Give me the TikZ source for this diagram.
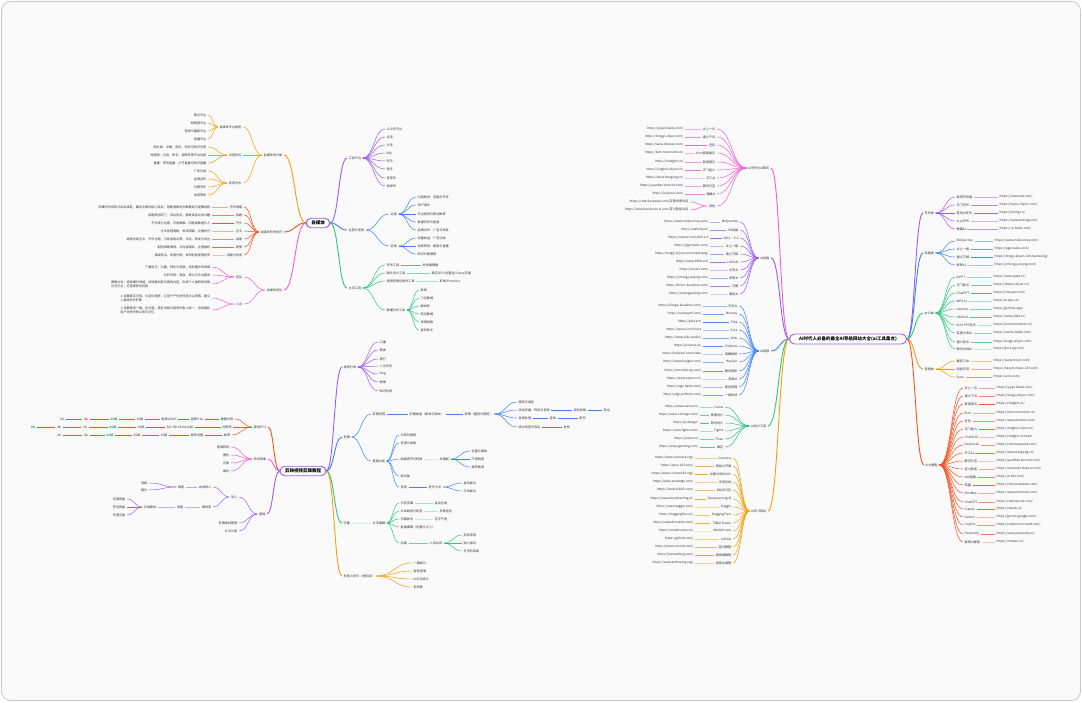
\documentclass[tikz,border=0pt]{standalone}
\usepackage{fontspec}
\setmainfont{Noto Sans CJK SC}
\usetikzlibrary{calc}
\definecolor{cpink}{HTML}{F25CD4}
\definecolor{cpurp}{HTML}{9B5CF6}
\definecolor{cblue}{HTML}{3B82F6}
\definecolor{cgreen}{HTML}{2DC77A}
\definecolor{corange}{HTML}{F59E0B}
\definecolor{cred}{HTML}{F4511E}
\definecolor{bgc}{HTML}{FAFAFA}
\definecolor{txc}{HTML}{333333}
\newcommand\mfs{\fontsize{3.1}{3.9}\selectfont}
\newcommand\mfr{\fontsize{4.5}{5.4}\selectfont\bfseries}
\tikzset{
  mt/.style={font=\mfs, inner xsep=1.5pt, inner ysep=0.6pt, text=txc},
  mtl/.style={mt, anchor=west},
  mtr/.style={mt, anchor=east},
  mtc/.style={mt, anchor=center},
  rootn/.style={draw=cpurp, line width=0.9pt, fill=white, rounded corners=5pt, font=\mfr, inner xsep=5pt, inner ysep=2.6pt, text=black},
  brl/.style={line width=0.9pt},
  fanl/.style={line width=0.5pt},
  chn/.style={line width=0.75pt},
  hc/.style={to path={let \p1=(\tikztostart), \p2=(\tikztotarget) in .. controls ({(\x1+\x2)/2},\y1) and ({(\x1+\x2)/2},\y2) .. (\tikztotarget)}}
}
\newcommand\fanR[5]{%
  \foreach \yy/\tx [count=\ii] in {#5}{%
    \node[mtl] (#4\ii) at (#3,\yy) {\tx};
    \draw[fanl,#2] (#1.east) to[hc] (#4\ii.west);}}
\newcommand\fanL[5]{%
  \foreach \yy/\tx [count=\ii] in {#5}{%
    \node[mtr] (#4\ii) at (#3,\yy) {\tx};
    \draw[fanl,#2] (#1.west) to[hc] (#4\ii.east);}}
\newcommand\mmR[6]{%
  \foreach \yy/\tx/\ux [count=\ii] in {#6}{%
    \node[mtl] (#5l\ii) at (#3,\yy) {\tx};
    \node[mtl] (#5u\ii) at (#4,\yy) {\ux};
    \draw[fanl,#2] (#1.east) to[hc] (#5l\ii.west);
    \pgfmathsetmacro\opc{0.3+0.07*mod(3*\ii,10)}
    \draw[chn,#2,draw opacity=\opc] (#5l\ii.east) -- (#5u\ii.west);}}
\newcommand\mmL[6]{%
  \foreach \yy/\tx/\ux [count=\ii] in {#6}{%
    \node[mtr] (#5l\ii) at (#3,\yy) {\tx};
    \node[mtr] (#5u\ii) at (#4,\yy) {\ux};
    \draw[fanl,#2] (#1.west) to[hc] (#5l\ii.east);
    \pgfmathsetmacro\opc{0.3+0.07*mod(3*\ii,10)}
    \draw[chn,#2,draw opacity=\opc] (#5l\ii.west) -- (#5u\ii.east);}}
\newcommand\chainL[5]{%
  \foreach \xx/\tx [count=\ii, remember=\ii as \jj (initially 0)] in {#5}{%
    \node[mtc] (#3\ii) at (\xx,#4) {\tx};
    \ifnum\ii=1 \draw[fanl,#2] (#1.west) to[hc] (#3\ii.east);
    \else \draw[chn,#2] (#3\jj.west) -- (#3\ii.east); \fi}}
\begin{document}
\begin{tikzpicture}[x=1pt,y=-1pt]
\useasboundingbox (0,0) rectangle (1082,702);
\draw[draw=black!22, fill=bgc, rounded corners=9pt, line width=0.8pt] (1.5,1.5) rectangle (1080.5,700.5);

%================ TOP-LEFT MAP =================
\node[rootn] (A) at (318,223) {自媒体};
\node[mtl] (A1) at (347,158) {工具平台};
\node[mtl] (A2) at (347,230) {运营与变现};
\node[mtl] (A3) at (347,288) {主流工具};
\node[mtr] (B1) at (284,155) {自媒体的分类};
\node[mtr] (B2) at (284,232) {自媒体写作技巧};
\node[mtr] (B3) at (284,290) {自媒体定位};
\draw[brl,cpurp] (A.east) to[hc] (A1.west);
\draw[brl,cblue] (A.east) to[hc] (A2.west);
\draw[brl,cgreen] (A.east) to[hc] (A3.west);
\draw[brl,corange] (A.west) to[hc] (B1.east);
\draw[brl,cred] (A.west) to[hc] (B2.east);
\draw[brl,cpink] (A.west) to[hc] (B3.east);

\fanR{A1}{cpurp}{385}{aa}{129/公众号平台,137/抖音,145/头条,153/B站,161/知乎,169/快手,178/百家号,186/视频号}
\node[mtl] (A21) at (389,214) {运营};
\node[mtl] (A22) at (389,246) {变现};
\draw[fanl,cblue] (A2.east) to[hc] (A21.west);
\draw[fanl,cblue] (A2.east) to[hc] (A22.west);
\fanR{A21}{cblue}{416}{ab}{197/内容规划：选题与写作,205/用户增长,214/平台规则与算法推荐,222/数据分析与复盘,230/品牌合作：广告与商单}
\fanR{A22}{cblue}{416}{ac}{238/流量收益：广告分成,246/电商带货：橱窗与直播,254/知识付费课程}
\node[mtl] (A31) at (385,265) {写作工具};
\node[mtl] (A32) at (385,273) {图片设计工具};
\node[mtl] (A33) at (385,281) {视频剪辑与制作工具};
\node[mtl] (A34) at (385,310) {数据分析工具};
\foreach \nd in {A31,A32,A33,A34} \draw[fanl,cgreen] (A3.east) to[hc] (\nd.west);
\node[mtl] (A31b) at (421,265) {秀米编辑器};
\node[mtl] (A32b) at (430,273) {稿定设计/创客贴/Canva可画};
\node[mtl] (A33b) at (438,281) {剪映/Premiere};
\draw[chn,cgreen,draw opacity=0.85] (A31.east) -- (A31b.west);
\draw[chn,cgreen,draw opacity=0.6] (A32.east) -- (A32b.west);
\draw[chn,cgreen,draw opacity=0.4] (A33.east) -- (A33b.west);
\fanR{A34}{cgreen}{419}{ad}{290/新榜,298/飞瓜数据,306/蝉妈妈,314/西瓜数据,322/清博指数,330/壹伴助手}

\node[mtr] (B11) at (243,127) {自媒体平台类型};
\node[mtr] (B12) at (243,155) {内容形式};
\node[mtr] (B13) at (243,183) {变现方式};
\foreach \nd in {B11,B12,B13} \draw[fanl,corange] (B1.west) to[hc] (\nd.east);
\fanL{B11}{corange}{208}{ba}{115/图文平台,123/短视频平台,131/音频与播客平台,139/直播平台}
\fanL{B12}{corange}{208}{bb}{147/图文类：文章、资讯、测评与知识分享,155/短视频：抖音、快手、视频号等平台内容,163/直播：带货直播、才艺直播与知识直播}
\fanL{B13}{corange}{208}{bc}{171/广告分成,179/品牌合作,187/付费专栏,195/电商带货}

\mmL{B2}{cred}{244}{212}{bd}{207/写作思路/明确写作目的与目标读者，确定文章的核心观点，搭建清晰的文章框架与逻辑结构,215/标题/标题简洁明了，突出亮点，激发读者点击兴趣,223/开头/开头吸引注意，可用故事、问题或数据引入,231/正文/正文条理清晰，观点明确，论据充分,239/结尾/结尾总结全文，升华主题，引导读者点赞、评论、转发与关注,247/配图/配图清晰美观，与内容相关，注意版权,255/排版与检查/排版简洁，段落分明，发布前检查错别字}

\node[mtr] (B31) at (244,277) {定位};
\node[mtr] (B32) at (244,304) {人设};
\draw[fanl,cpink] (B3.west) to[hc] (B31.east);
\draw[fanl,cpink] (B3.west) to[hc] (B32.east);
\node[mtr] (B311) at (212,267) {了解自己：兴趣、特长与资源，找到擅长的领域};
\node[mtr] (B312) at (212,275) {分析市场：竞品、受众与平台需求};
\node[mtr, align=left] (B313) at (212,284) {明确方向：选择细分领域，持续输出有价值的内容，形成个人独特的风格\\与记忆点，打造差异化优势};
\foreach \nd in {B311,B312,B313} \draw[fanl,cpink] (B31.west) to[hc] (\nd.east);
\node[mtr, align=left] (B321) at (212,298) {人设要真实可信，与定位相符，让用户产生信任感与认同感，建立\\人格化的IP形象};
\node[mtr, align=left] (B322) at (212,310) {人设要保持一致，在内容、语言风格与视觉形象上统一，持续强化\\用户对账号的认知与记忆};
\foreach \nd in {B321,B322} \draw[fanl,cpink] (B32.west) to[hc] (\nd.east);

%================ BOTTOM-LEFT MAP =================
\node[rootn] (C) at (303,471) {剪映视频剪辑教程};
\node[mtr] (C1) at (268,427) {视频尺寸};
\node[mtr] (C2) at (268,459) {转场效果};
\node[mtr] (C3) at (267,514) {基础};
\node[mtl] (C4) at (342,367) {视频分类};
\node[mtl] (C5) at (342,437) {剪辑};
\node[mtl] (C6) at (342,523) {字幕};
\node[mtl] (C7) at (342,576) {剪映小技巧（进阶版）};
\draw[brl,cred] (C.west) to[hc] (C1.east);
\draw[brl,cpink] (C.west) to[hc] (C2.east);
\draw[brl,cpurp] (C.west) to[hc] (C3.east);
\draw[brl,cpurp] (C.east) to[hc] (C4.west);
\draw[brl,cblue] (C.east) to[hc] (C5.west);
\draw[brl,cgreen] (C.east) to[hc] (C6.west);
\draw[brl,corange] (C.east) to[hc] (C7.west);

\chainL{C1}{cred}{ca}{419}{227/画面比例,197/竖屏9:16,169/高清1080P,140/30帧,114/60帧,86/4K,62/2K}
\chainL{C1}{cred}{cb}{427}{227/分辨率,180/Full HD 1920x1080,141/30帧,113/60帧,85/2K,59/4K,33/8K}
\chainL{C1}{cred}{cc}{435}{227/帧率,197/帧率设置,164/25帧,137/50帧,110/60帧,86/4K,59/2K}
\fanL{C2}{cpink}{231}{cd}{447/基础转场,455/叠化,463/闪黑,471/推近}

\node[mtr] (C31) at (239,497) {导入};
\node[mtr] (C32) at (239,523) {剪辑素材管理};
\node[mtr] (C33) at (239,531) {片头片尾};
\foreach \nd in {C31,C32,C33} \draw[fanl,cpurp] (C3.west) to[hc] (\nd.east);
\node[mtr] (C311) at (213,487) {本地导入};
\node[mtr] (C312) at (213,507) {素材库};
\draw[fanl,cpurp] (C31.west) to[hc] (C311.east);
\draw[fanl,cpurp] (C31.west) to[hc] (C312.east);
\node[mtr] (C311a) at (186,487) {相册};
\draw[chn,cpurp,draw opacity=0.55] (C311.west) -- (C311a.east);
\fanL{C311a}{cpurp}{149}{ce}{483/视频,490/图片}
\node[mtr] (C312a) at (185,507) {网盘};
\node[mtr] (C312b) at (158,507) {云端素材};
\draw[chn,cpurp,draw opacity=0.5] (C312.west) -- (C312a.east);
\draw[chn,cpurp,draw opacity=0.5] (C312a.west) -- (C312b.east);
\fanL{C312b}{cpurp}{127}{cf}{499/百度网盘,507/夸克网盘,515/阿里云盘}

\fanR{C4}{cpurp}{378}{cg}{342/口播,350/美食,359/旅行,366/人文历史,374/Vlog,382/剧情,391/知识科普}

\node[mtl] (C51) at (371,414) {剪辑流程};
\node[mtl] (C52) at (371,461) {基础功能};
\draw[fanl,cblue] (C5.east) to[hc] (C51.west);
\draw[fanl,cblue] (C5.east) to[hc] (C52.west);
\node[mtl] (C51a) at (408,414) {前期准备（素材与脚本）};
\node[mtl] (C51b) at (463,414) {剪辑（粗剪与精剪）};
\draw[chn,cblue] (C51.east) -- (C51a.west);
\draw[chn,cblue] (C51a.east) -- (C51b.west);
\fanR{C51b}{cblue}{517}{ch}{402/精剪与调色,410/添加字幕、转场与音效,418/音频处理,427/成片检查与导出}
\node[mtl] (C51d) at (572,410) {调色参数};
\node[mtl] (C51e) at (602,410) {导出};
\node[mtl] (C51f) at (548,418) {音效};
\node[mtl] (C51g) at (578,418) {配乐};
\node[mtl] (C51h) at (562,427) {发布};
\draw[chn,cblue] (ch2.east) -- (C51d.west);
\draw[chn,cblue] (C51d.east) -- (C51e.west);
\draw[chn,cblue] (ch3.east) -- (C51f.west);
\draw[chn,cblue] (C51f.east) -- (C51g.west);
\draw[chn,cblue] (ch4.east) -- (C51h.west);
\fanR{C52}{cblue}{399}{ci}{435/分割与删除,443/变速与倒放,459/画面调节与特效,476/画中画,487/音频}
\node[mtl] (C52k) at (438,459) {关键帧};
\draw[chn,cblue,draw opacity=0.2] (ci3.east) -- (C52k.west);
\fanR{C52k}{cblue}{470}{cj}{451/位置与缩放,459/不透明度,467/旋转角度}
\node[mtl] (C52m) at (427,487) {音乐卡点};
\draw[chn,cblue] (ci5.east) -- (C52m.west);
\fanR{C52m}{cblue}{462}{ck}{483/自动踩点,491/手动踩点}

\node[mtl] (C61) at (371,523) {文字编辑};
\draw[chn,cgreen,draw opacity=0.2] (C6.east) -- (C61.west);
\fanR{C61}{cgreen}{399}{cl}{503/识别字幕,511/文本朗读与配音,519/字幕样式,527/批量编辑（位置与大小）,543/动画}
\node[mtl] (C611) at (433,503) {自动生成};
\node[mtl] (C612) at (438,511) {多种音色};
\node[mtl] (C613) at (433,519) {花字气泡};
\node[mtl] (C615) at (428,543) {入场出场};
\draw[chn,cgreen,draw opacity=0.45] (cl1.east) -- (C611.west);
\draw[chn,cgreen,draw opacity=0.35] (cl2.east) -- (C612.west);
\draw[chn,cgreen,draw opacity=0.25] (cl3.east) -- (C613.west);
\draw[chn,cgreen,draw opacity=0.7] (cl5.east) -- (C615.west);
\fanR{C615}{cgreen}{462}{cm}{535/渐显渐隐,543/弹入弹出,551/打字机效果}
\fanR{C7}{corange}{412}{cn}{563/一键成片,571/智能抠像,579/AI文字成片,587/剪同款}

%================ RIGHT MAP =================
\node[rootn, minimum width=117pt] (R) at (848,339) {AI时代人必备的最全AI导航网站大全(ai工具集合)};
\node[mtl] (R1) at (923,213) {写作类};
\node[mtl] (R2) at (923,253) {绘画类};
\node[mtl] (R3) at (923,313) {办公类};
\node[mtl] (R4) at (923,369) {音频类};
\node[mtl] (R5) at (924,465) {AI大模型};
\draw[brl,cpurp] (R.east) to[hc] (R1.west);
\draw[brl,cblue] (R.east) to[hc] (R2.west);
\draw[brl,cgreen] (R.east) to[hc] (R3.west);
\draw[brl,corange] (R.east) to[hc] (R4.west);
\draw[brl,cred] (R.east) to[hc] (R5.west);
\node[mtr] (L1) at (771,168) {AI写作与AI聊天};
\node[mtr] (L2) at (771,258) {AI绘画};
\node[mtr] (L3) at (771,351) {AI视频};
\node[mtr] (L4) at (768,426) {AI设计工具};
\node[mtr] (L5) at (768,511) {AI学习网站};
\draw[brl,cpink] (R.west) to[hc] (L1.east);
\draw[brl,cpurp] (R.west) to[hc] (L2.east);
\draw[brl,cblue] (R.west) to[hc] (L3.east);
\draw[brl,cgreen] (R.west) to[hc] (L4.east);
\draw[brl,corange] (R.west) to[hc] (L5.east);

\mmR{R1}{cpurp}{955}{998}{ra}{197/秘塔写作猫/{https://xiezuocat.com/},205/讯飞写作/{https://huixie.iflyrec.com/},213/笔灵AI写作/{https://ibiling.cn/},221/火山写作/{https://www.writingo.net/},229/橙篇AI/{https://cp.baidu.com/}}
\mmR{R2}{cblue}{955}{993}{rb}{241/Midjourney/{https://www.midjourney.com/},249/文心一格/{https://yige.baidu.com/},257/通义万相/{https://tongyi.aliyun.com/wanxiang/},265/即梦AI/{https://jimeng.jianying.com/}}
\mmR{R3}{cgreen}{955}{992}{rc}{277/AiPPT/{https://www.aippt.cn/},285/讯飞智文/{https://zhiwen.xfyun.cn/},293/ChatPPT/{https://chat-ppt.com/},301/WPS AI/{https://ai.wps.cn/},309/Gamma/{https://gamma.app/},317/iSlide AI/{https://www.islide.cc/},325/Kimi PPT助手/{https://kimi.moonshot.cn/},333/百度文库AI/{https://wenku.baidu.com/},342/通义智文/{https://tongyi.aliyun.com/},349/腾讯文档AI/{https://docs.qq.com/}}
\mmR{R4}{corange}{955}{992}{rd}{361/魔音工坊/{https://www.moyin.com/},369/网易天音/{https://tianyin.music.163.com/},377/Suno/{https://suno.com/}}
\mmR{R5}{cred}{963}{995}{re}{388/文心一言/{https://yiyan.baidu.com/},396/通义千问/{https://tongyi.aliyun.com/},404/智谱清言/{https://chatglm.cn/},413/Kimi/{https://kimi.moonshot.cn/},421/豆包/{https://www.doubao.com/},429/讯飞星火/{https://xinghuo.xfyun.cn/},437/ChatGLM/{https://chatglm.cn/main},445/DeepSeek/{https://chat.deepseek.com/},453/天工AI/{https://www.tiangong.cn/},461/腾讯元宝/{https://yuanbao.tencent.com/},469/百川智能/{https://www.baichuan-ai.com/},477/360智脑/{https://ai.360.com/},485/商量/{https://chat.sensetime.com/},493/MiniMax/{https://www.minimaxi.com/},502/ChatGPT/{https://chat.openai.com/},509/Claude/{https://claude.ai/},517/Gemini/{https://gemini.google.com/},525/Copilot/{https://copilot.microsoft.com/},534/Perplexity/{https://www.perplexity.ai/},542/秘塔AI搜索/{https://metaso.cn/}}

\mmL{L1}{cpink}{717}{685}{la}{129/文心一言/{https://yiyan.baidu.com/},137/通义千问/{https://tongyi.aliyun.com/},145/豆包/{https://www.doubao.com/},153/Kimi智能助手/{https://kimi.moonshot.cn/},162/智谱清言/{https://chatglm.cn/},170/讯飞星火/{https://xinghuo.xfyun.cn/},178/天工AI/{https://www.tiangong.cn/},186/腾讯元宝/{https://yuanbao.tencent.com/},194/海螺AI/{https://hailuoai.com/}}
\node[mtr] (L1o) at (717,206) {其他};
\draw[fanl,cpink] (L1.west) to[hc] (L1o.east);
\fanL{L1o}{cpink}{690}{lb}{202/{https://chat.deepseek.com/深度求索对话},210/{https://www.baichuan-ai.com/百川智能对话}}
\mmL{L2}{cpurp}{740}{710}{lc}{222/Midjourney/{https://www.midjourney.com/},230/SD绘画/{https://stability.ai/},238/DALL·E 3/{https://openai.com/dall-e-3},246/文心一格/{https://yige.baidu.com/},254/通义万相/{https://tongyi.aliyun.com/wanxiang/},262/LiblibAI/{https://www.liblib.art/},270/吐司AI/{https://tusiart.com/},278/即梦AI/{https://jimeng.jianying.com/},286/可图/{https://kolors.kuaishou.com/},294/稿定AI/{https://www.gaoding.com/}}
\mmL{L3}{cblue}{739}{703}{ld}{306/可灵AI/{https://klingai.kuaishou.com/},314/Runway/{https://runwayml.com/},322/Pika/{https://pika.art/},330/Sora/{https://openai.com/sora},338/Vidu/{https://www.vidu.studio/},346/PixVerse/{https://pixverse.ai/},354/海螺视频/{https://hailuoai.com/video},362/HeyGen/{https://www.heygen.com/},371/腾讯智影/{https://zenvideo.qq.com/},379/剪映AI/{https://www.capcut.cn/},387/度加剪辑/{https://aigc.baidu.com/},395/一帧秒创/{https://aigc.yizhentv.com/}}
\mmL{L4}{cgreen}{725}{700}{le}{407/Canva/{https://www.canva.cn/},415/美图设计/{https://www.x-design.com/},423/即时设计/{https://js.design/},431/Figma/{https://www.figma.com/},439/Pixso/{https://pixso.cn/},447/稿定/{https://www.gaoding.com/}}
\mmL{L5}{corange}{733}{695}{lf}{458/Coursera/{https://www.coursera.org/},466/网易公开课/{https://open.163.com/},474/中国大学MOOC/{https://www.icourse163.org/},482/学堂在线/{https://www.xuetangx.com/},490/B站学习区/{https://www.bilibili.com/},499/DeepLearning.AI/{https://www.deeplearning.ai/},507/Kaggle/{https://www.kaggle.com/},515/Hugging Face/{https://huggingface.co/},523/飞桨AI Studio/{https://aistudio.baidu.com/},531/ModelScope/{https://modelscope.cn/},539/GitHub/{https://github.com/},547/菜鸟教程/{https://www.runoob.com/},555/廖雪峰教程/{https://liaoxuefeng.com/},563/吴恩达课程/{https://www.andrewng.org/}}
\end{tikzpicture}
\end{document}
